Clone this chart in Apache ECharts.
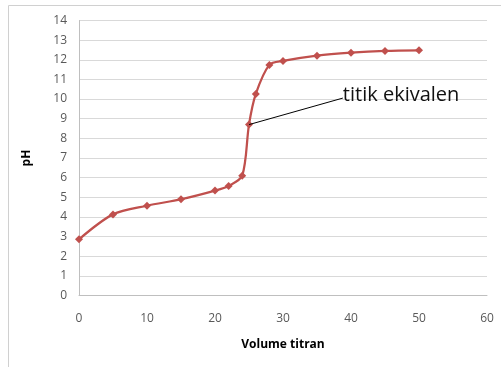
<!DOCTYPE html>
<html><head><meta charset="utf-8">
<script src="https://cdn.jsdelivr.net/npm/echarts@6/dist/echarts.min.js"></script>
<style>html,body{margin:0;padding:0;background:#fff}#c{width:501px;height:367px}</style>
</head><body><div id="c"></div>
<script>
var volume = [0, 5, 10, 15, 20, 22, 24, 25, 26, 28, 30, 35, 40, 45, 50];
var pH = [2.86, 4.13, 4.57, 4.90, 5.34, 5.58, 6.10, 8.70, 10.26, 11.74, 11.94, 12.21, 12.36, 12.45, 12.48];
var annotationText = 'titik ekivalen';
var annotationFrom = [25, 8.70];
var annotationTo = [38.8, 10.05];

var chart = echarts.init(document.getElementById('c'));
var font = '"Open Sans", "Noto Sans", sans-serif';
chart.setOption({
  animation: false,
  graphic: [{type: 'rect', shape: {x: 8.5, y: 5.5, width: 520, height: 400}, style: {fill: 'none', stroke: '#d0d0d0', lineWidth: 1}}],
  grid: {left: 79, right: 14, top: 20.5, bottom: 71.5},
  xAxis: {
    type: 'value', min: 0, max: 60, interval: 10,
    name: 'Volume titran', nameLocation: 'middle', nameGap: 43,
    nameTextStyle: {fontFamily: font, fontSize: 12, fontWeight: 'bold', color: '#000'},
    axisLine: {show: true, lineStyle: {color: '#bfbfbf'}},
    axisTick: {show: false},
    axisLabel: {margin: 17, fontFamily: font, fontSize: 12, color: '#595959'},
    splitLine: {show: false}
  },
  yAxis: {
    type: 'value', min: 0, max: 14, interval: 1,
    name: 'pH', nameLocation: 'middle', nameGap: 46,
    nameTextStyle: {fontFamily: font, fontSize: 12, fontWeight: 'bold', color: '#000'},
    axisLine: {show: true, lineStyle: {color: '#bfbfbf'}},
    axisTick: {show: false},
    axisLabel: {margin: 12, fontFamily: font, fontSize: 12, color: '#595959'},
    splitLine: {show: true, lineStyle: {color: '#d9d9d9'}}
  },
  series: [{
    type: 'line',
    data: volume.map(function (v, i) { return [v, pH[i]]; }),
    smooth: 0.3,
    symbol: 'diamond', symbolSize: 8,
    lineStyle: {color: '#C0504D', width: 2.25},
    itemStyle: {color: '#C0504D'},
    markLine: {
      silent: true, symbol: 'none',
      lineStyle: {color: '#000', width: 1, type: 'solid'},
      label: {show: false},
      data: [[{coord: annotationFrom}, {coord: annotationTo}]]
    },
    markPoint: {
      silent: true, symbol: 'circle', symbolSize: 0,
      data: [{coord: annotationTo, label: {show: true, position: 'right', distance: 0, offset: [0, -3], formatter: annotationText, fontFamily: font, fontSize: 20, color: '#111'}}]
    }
  }]
});
</script></body></html>
